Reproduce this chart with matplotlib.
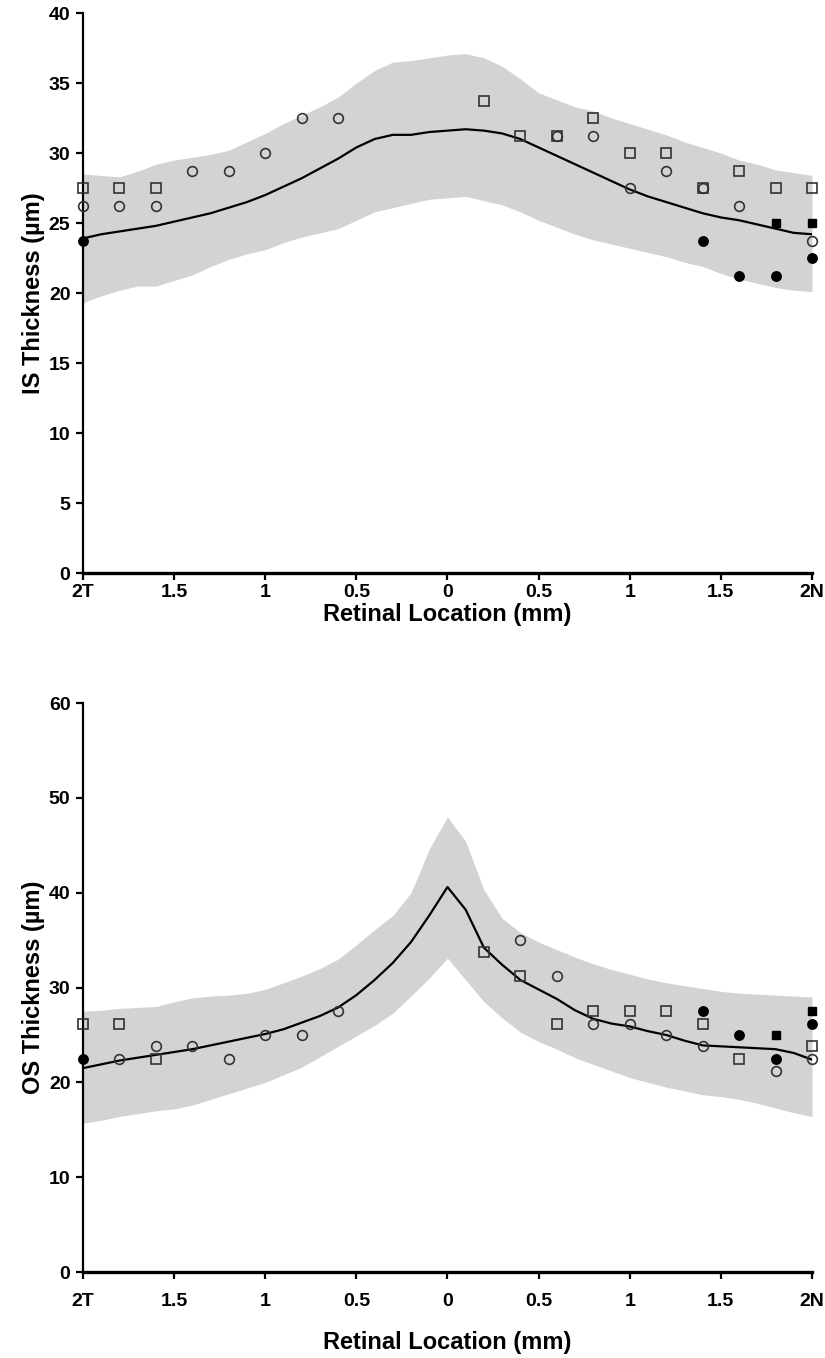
import matplotlib
matplotlib.use("Agg")
import matplotlib.pyplot as plt

plt.rcParams["font.family"] = ["Liberation Sans", "DejaVu Sans"]
plt.rcParams["font.weight"] = "bold"

# retinal location grid for the normative curves (mm, temporal negative)
LINE_X = [-2.0, -1.9, -1.8, -1.7, -1.6, -1.5, -1.4, -1.3, -1.2, -1.1, -1.0,
          -0.9, -0.8, -0.7, -0.6, -0.5, -0.4, -0.3, -0.2, -0.1, 0.0,
          0.1, 0.2, 0.3, 0.4, 0.5, 0.6, 0.7, 0.8, 0.9, 1.0,
          1.1, 1.2, 1.3, 1.4, 1.5, 1.6, 1.7, 1.8, 1.9, 2.0]

# IS thickness: normal mean and band
IS_MEAN = [23.9, 24.2, 24.4, 24.6, 24.8, 25.1, 25.4, 25.7, 26.1, 26.5, 27.0,
           27.6, 28.2, 28.9, 29.6, 30.4, 31.0, 31.3, 31.3, 31.5, 31.6,
           31.7, 31.6, 31.4, 31.0, 30.4, 29.8, 29.2, 28.6, 28.0, 27.4,
           26.9, 26.5, 26.1, 25.7, 25.4, 25.2, 24.9, 24.6, 24.3, 24.2]
IS_UPPER = [28.5, 28.4, 28.3, 28.7, 29.2, 29.5, 29.7, 29.9, 30.2, 30.8, 31.4,
            32.1, 32.7, 33.3, 34.0, 35.0, 35.9, 36.5, 36.6, 36.8, 37.0,
            37.1, 36.8, 36.2, 35.3, 34.3, 33.8, 33.3, 33.0, 32.5, 32.1,
            31.7, 31.3, 30.8, 30.4, 30.0, 29.5, 29.2, 28.8, 28.6, 28.4]
IS_LOWER = [19.3, 19.8, 20.2, 20.5, 20.5, 20.9, 21.3, 21.9, 22.4, 22.8, 23.1,
            23.6, 24.0, 24.3, 24.6, 25.2, 25.8, 26.1, 26.4, 26.7, 26.8,
            26.9, 26.6, 26.3, 25.8, 25.2, 24.7, 24.2, 23.8, 23.5, 23.2,
            22.9, 22.6, 22.2, 21.9, 21.4, 21.0, 20.7, 20.4, 20.2, 20.1]

# OS thickness: normal mean and band
OS_MEAN = [21.5, 21.9, 22.3, 22.6, 22.9, 23.2, 23.5, 23.9, 24.3, 24.7, 25.1,
           25.6, 26.3, 27.0, 27.9, 29.2, 30.8, 32.6, 34.8, 37.6, 40.6,
           38.2, 34.2, 32.4, 30.8, 29.8, 28.8, 27.6, 26.7, 26.2, 25.9,
           25.4, 25.0, 24.4, 23.9, 23.8, 23.7, 23.6, 23.5, 23.1, 22.4]
OS_UPPER = [27.5, 27.6, 27.8, 27.9, 28.0, 28.5, 28.9, 29.1, 29.2, 29.4, 29.8,
            30.5, 31.2, 32.0, 33.0, 34.5, 36.1, 37.6, 40.0, 44.6, 48.0,
            45.4, 40.3, 37.3, 35.8, 34.8, 34.0, 33.2, 32.5, 31.9, 31.4,
            30.9, 30.5, 30.2, 29.9, 29.6, 29.4, 29.3, 29.2, 29.1, 29.0]
OS_LOWER = [15.7, 16.0, 16.4, 16.7, 17.0, 17.2, 17.6, 18.2, 18.8, 19.4, 20.0,
            20.8, 21.6, 22.7, 23.8, 24.9, 26.0, 27.3, 29.1, 31.0, 33.1,
            30.8, 28.5, 26.8, 25.3, 24.3, 23.5, 22.6, 21.9, 21.2, 20.5,
            20.0, 19.5, 19.1, 18.7, 18.5, 18.2, 17.8, 17.3, 16.8, 16.4]

# IS patient data
IS_OPEN_SQ_X = [-2.0, -1.8, -1.6, 0.2, 0.4, 0.6, 0.8, 1.0, 1.2, 1.4, 1.6, 1.8, 2.0]
IS_OPEN_SQ_Y = [27.5, 27.5, 27.5, 33.7, 31.2, 31.2, 32.5, 30.0, 30.0, 27.5, 28.7, 27.5, 27.5]
IS_OPEN_CI_X = [-2.0, -1.8, -1.6, -1.4, -1.2, -1.0, -0.8, -0.6, 0.6, 0.8, 1.0, 1.2, 1.4, 1.6, 2.0]
IS_OPEN_CI_Y = [26.2, 26.2, 26.2, 28.7, 28.7, 30.0, 32.5, 32.5, 31.2, 31.2, 27.5, 28.7, 27.5, 26.2, 23.7]
IS_FILL_CI_X = [-2.0, 1.4, 1.6, 1.8, 2.0]
IS_FILL_CI_Y = [23.7, 23.7, 21.2, 21.2, 22.5]
IS_FILL_SQ_X = [1.8, 2.0]
IS_FILL_SQ_Y = [25.0, 25.0]

# OS patient data
OS_OPEN_SQ_X = [-2.0, -1.8, -1.6, 0.2, 0.4, 0.6, 0.8, 1.0, 1.2, 1.4, 1.6, 2.0]
OS_OPEN_SQ_Y = [26.2, 26.2, 22.5, 33.7, 31.2, 26.2, 27.5, 27.5, 27.5, 26.2, 22.5, 23.8]
OS_OPEN_CI_X = [-1.8, -1.6, -1.4, -1.2, -1.0, -0.8, -0.6, 0.4, 0.6, 0.8, 1.0, 1.2, 1.4, 1.8, 2.0]
OS_OPEN_CI_Y = [22.5, 23.8, 23.8, 22.5, 25.0, 25.0, 27.5, 35.0, 31.2, 26.2, 26.2, 25.0, 23.8, 21.2, 22.5]
OS_FILL_CI_X = [-2.0, 1.4, 1.6, 1.8, 2.0]
OS_FILL_CI_Y = [22.5, 27.5, 25.0, 22.5, 26.2]
OS_FILL_SQ_X = [1.8, 2.0]
OS_FILL_SQ_Y = [25.0, 27.5]

XTICKS = [-2.0, -1.5, -1.0, -0.5, 0.0, 0.5, 1.0, 1.5, 2.0]
XTICK_LABELS = ["2T", "1.5", "1", "0.5", "0", "0.5", "1", "1.5", "2N"]

BAND_COLOR = "#d3d3d3"
EDGE_COLOR = "#333333"


def draw_panel(ax, mean, upper, lower, series, ymax, ystep, ylabel, xpad, xlabelpad):
    ax.fill_between(LINE_X, lower, upper, color=BAND_COLOR, linewidth=0, zorder=1)
    ax.plot(LINE_X, mean, color="black", linewidth=1.6, zorder=2)

    open_sq, open_ci, fill_ci, fill_sq = series
    ax.plot(*open_sq, "s", ms=6.5, mfc="none", mec=EDGE_COLOR, mew=1.2, clip_on=False, zorder=3)
    ax.plot(*open_ci, "o", ms=7.0, mfc="none", mec=EDGE_COLOR, mew=1.2, clip_on=False, zorder=3)
    ax.plot(*fill_ci, "o", ms=6.8, color="black", clip_on=False, zorder=4)
    ax.plot(*fill_sq, "s", ms=6.2, color="black", clip_on=False, zorder=4)

    ax.set_xlim(-2, 2)
    ax.set_ylim(0, ymax)
    ax.set_yticks(range(0, ymax + 1, ystep))
    ax.set_xticks(XTICKS)
    ax.set_xticklabels(XTICK_LABELS)
    for side in ("top", "right"):
        ax.spines[side].set_visible(False)
    ax.spines["left"].set_linewidth(1.6)
    ax.spines["bottom"].set_linewidth(2.4)
    ax.tick_params(direction="out", length=5, width=1.6, labelsize=14)
    ax.tick_params(axis="y", pad=4)
    ax.tick_params(axis="x", pad=xpad)
    ax.set_ylabel(ylabel, fontsize=17, fontweight="bold", labelpad=3)
    ax.set_xlabel("Retinal Location (mm)", fontsize=17, fontweight="bold", labelpad=xlabelpad)


fig = plt.figure(figsize=(8.25, 13.58), dpi=100)
ax_is = fig.add_axes([0.1006, 0.578, 0.8836, 0.4124])
ax_os = fig.add_axes([0.1006, 0.0633, 0.8836, 0.419])

draw_panel(
    ax_is, IS_MEAN, IS_UPPER, IS_LOWER,
    [(IS_OPEN_SQ_X, IS_OPEN_SQ_Y), (IS_OPEN_CI_X, IS_OPEN_CI_Y),
     (IS_FILL_CI_X, IS_FILL_CI_Y), (IS_FILL_SQ_X, IS_FILL_SQ_Y)],
    40, 5, "IS Thickness (\u00b5m)", 3, 1,
)
draw_panel(
    ax_os, OS_MEAN, OS_UPPER, OS_LOWER,
    [(OS_OPEN_SQ_X, OS_OPEN_SQ_Y), (OS_OPEN_CI_X, OS_OPEN_CI_Y),
     (OS_FILL_CI_X, OS_FILL_CI_Y), (OS_FILL_SQ_X, OS_FILL_SQ_Y)],
    60, 10, "OS Thickness (\u00b5m)", 10, 15,
)

fig.savefig("out.png", dpi=100)
